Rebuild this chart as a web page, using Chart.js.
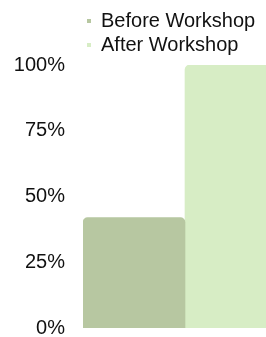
<!DOCTYPE html>
<html>
<head>
    <title>Workshop Results</title>
    <script src="https://cdn.jsdelivr.net/npm/chart.js"></script>
    <style>
        html, body { margin: 0; padding: 0; overflow: hidden; background: #fff; }
        #wrap { width: 300px; height: 358px; }
    </style>
</head>
<body>
    <div id="wrap"><canvas id="workshopChart"></canvas></div>

    <script>
        // Chart data
        const categories = ['Participants'];
        const beforeValues = [42];
        const afterValues = [100];
        const yTicks = [0, 25, 50, 75, 100];

        const ctx = document.getElementById('workshopChart').getContext('2d');
        const chart = new Chart(ctx, {
            type: 'bar',
            data: {
                labels: categories,
                datasets: [
                    {
                        label: 'Before Workshop',
                        data: beforeValues,
                        backgroundColor: '#b7c7a1',
                        borderRadius: 5,
                        barPercentage: 1,
                        categoryPercentage: 1
                    },
                    {
                        label: 'After Workshop',
                        data: afterValues,
                        backgroundColor: '#d7edc5',
                        borderRadius: 5,
                        barPercentage: 1,
                        categoryPercentage: 1
                    }
                ]
            },
            options: {
                responsive: true,
                maintainAspectRatio: false,
                animation: false,
                layout: {
                    padding: { top: 7, left: 14, right: 13, bottom: 0 }
                },
                plugins: {
                    legend: {
                        position: 'top',
                        align: 'start',
                        fullSize: false,
                        labels: {
                            boxWidth: 4,
                            boxHeight: 4,
                            padding: 4,
                            color: '#111',
                            font: { family: 'Liberation Sans', size: 20 }
                        }
                    },
                    tooltip: { enabled: false }
                },
                scales: {
                    x: { display: false },
                    y: {
                        min: yTicks[0],
                        max: yTicks[yTicks.length - 1],
                        border: { display: false },
                        grid: { display: false, drawTicks: false },
                        afterBuildTicks: axis => {
                            axis.ticks = yTicks.map(v => ({ value: v }));
                        },
                        afterFit: axis => {
                            axis.width = 69;
                        },
                        ticks: {
                            padding: 18,
                            color: '#111',
                            font: { family: 'Liberation Sans', size: 20 },
                            callback: v => v + '%'
                        }
                    }
                }
            }
        });
    </script>
</body>
</html>
